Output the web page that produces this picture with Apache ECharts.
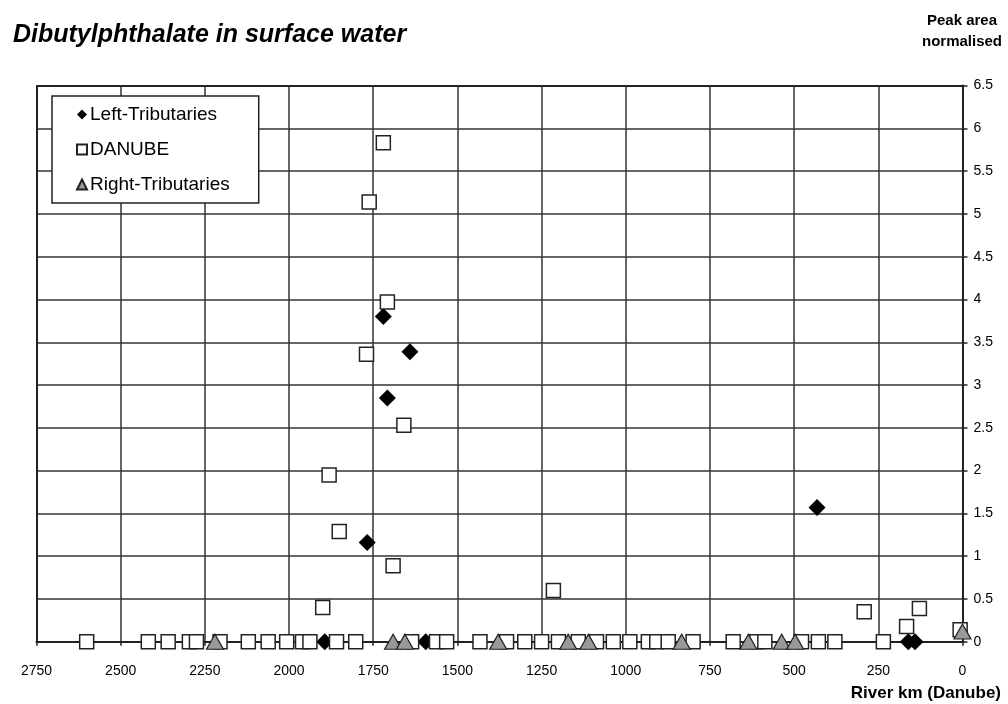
<!DOCTYPE html>
<html><head><meta charset="utf-8">
<script src="https://cdn.jsdelivr.net/npm/echarts@6/dist/echarts.min.js"></script>
<style>html,body{margin:0;padding:0;background:#fff}#c{width:1008px;height:704px}</style>
</head><body><div id="c"></div>
<script>
const xTicks = [2750,2500,2250,2000,1750,1500,1250,1000,750,500,250,0];
const yTicks = [0,0.5,1,1.5,2,2.5,3,3.5,4,4.5,5,5.5,6,6.5];

const leftKm  = [1720, 1641, 1708, 1768, 432, 1894, 1594, 161, 141];
const leftVal = [3.80, 3.39, 2.85, 1.16, 1.57, 0, 0, 0, 0];

const danubeKm  = [1720, 1762, 1708, 1770, 1659, 1881, 1851, 1691, 1900, 1215, 292, 128, 166,
  2601, 2418, 2359, 2296, 2275, 2205, 2121, 2062, 2007, 1960, 1938, 1859, 1802, 1636, 1562, 1532,
  1433, 1354, 1300, 1250, 1200, 1141, 1087, 1037, 988, 933, 908, 874, 800, 681, 611, 587, 478, 428, 379, 235, 7];
const danubeVal = [5.83, 5.14, 3.97, 3.36, 2.53, 1.95, 1.29, 0.89, 0.40, 0.60, 0.35, 0.39, 0.18,
  0, 0, 0, 0, 0, 0, 0, 0, 0, 0, 0, 0, 0, 0, 0, 0,
  0, 0, 0, 0, 0, 0, 0, 0, 0, 0, 0, 0, 0, 0, 0, 0, 0, 0, 0, 0, 0.14];

const rightKm  = [2220, 1691, 1656, 1379, 1171, 1111, 834, 636, 537, 497, 0];
const rightVal = [0, 0, 0, 0, 0, 0, 0, 0, 0, 0, 0.12];

const pairs = (a, b) => a.map((v, i) => [v, b[i]]);
const FONT = 'Liberation Sans';

const chart = echarts.init(document.getElementById('c'), null, {renderer: 'canvas'});
chart.setOption({
  animation: false,
  backgroundColor: '#fff',
  textStyle: {fontFamily: FONT},
  title: [
    {text: 'Dibutylphthalate in surface water', left: 8, top: 18,
     textStyle: {fontFamily: FONT, fontSize: 25, fontWeight: 'bold', fontStyle: 'italic', color: '#000'}},
    {text: 'River km (Danube)', right: 2, top: 680,
     textStyle: {fontFamily: FONT, fontSize: 17, fontWeight: 'bold', color: '#000'}}
  ],
  graphic: [
    {type: 'text', x: 962, y: 10, style: {text: 'Peak area\nnormalised', align: 'center',
      font: 'bold 15px "Liberation Sans"', lineHeight: 21, fill: '#000'}}
  ],
  legend: {
    orient: 'vertical', left: 52, top: 96,
    padding: [9, 29, 9, 24], itemGap: 16,
    backgroundColor: '#fff', borderColor: '#222', borderWidth: 1.5,
    itemWidth: 10, itemHeight: 10,
    textStyle: {fontFamily: FONT, fontSize: 19, color: '#000', padding: [0, 0, 0, -2]},
    data: ['Left-Tributaries', 'DANUBE', 'Right-Tributaries']
  },
  grid: {left: 36.5, right: 45.5, top: 85.5, bottom: 62.2, containLabel: false},
  xAxis: {
    type: 'value', inverse: true, min: 0, max: 2750, interval: 250,
    axisLine: {show: true, lineStyle: {color: '#222', width: 2}},
    axisTick: {show: true, length: 4, lineStyle: {color: '#222', width: 1.5}},
    axisLabel: {fontFamily: FONT, fontSize: 14, color: '#000', margin: 22, formatter: v => String(v)},
    splitLine: {show: true, lineStyle: {color: '#333', width: 1.5}}
  },
  yAxis: {
    type: 'value', position: 'right', min: 0, max: 6.5, interval: 0.5,
    axisLine: {show: true, lineStyle: {color: '#222', width: 2}},
    axisTick: {show: true, length: 5, lineStyle: {color: '#222', width: 1.5}},
    axisLabel: {fontFamily: FONT, fontSize: 14, color: '#000', margin: 11, formatter: v => String(v)},
    splitLine: {show: true, lineStyle: {color: '#333', width: 1.5}}
  },
  series: [
    {name: 'Left-Tributaries', type: 'scatter', symbol: 'diamond', symbolSize: 17, clip: false, z: 3,
     itemStyle: {color: '#000', borderColor: '#000', borderWidth: 0, opacity: 1},
     data: pairs(leftKm, leftVal)},
    {name: 'DANUBE', type: 'scatter', symbol: 'rect', symbolSize: 14, clip: false, z: 4,
     itemStyle: {color: '#fff', borderColor: '#222', borderWidth: 1.5, opacity: 1},
     data: pairs(danubeKm, danubeVal)},
    {name: 'Right-Tributaries', type: 'scatter', symbol: 'triangle', symbolSize: [17, 15], clip: false, z: 5,
     itemStyle: {color: '#999', borderColor: '#222', borderWidth: 1.2, opacity: 1},
     data: pairs(rightKm, rightVal)},
    {type: 'line', data: [], markLine: {silent: true, symbol: 'none', label: {show: false},
      lineStyle: {color: '#222', width: 2, type: 'solid'}, data: [[{coord: [2750, 6.5]}, {coord: [0, 6.5]}], [{coord: [2750, 0]}, {coord: [2750, 6.5]}]]}}
  ]
});
</script></body></html>
